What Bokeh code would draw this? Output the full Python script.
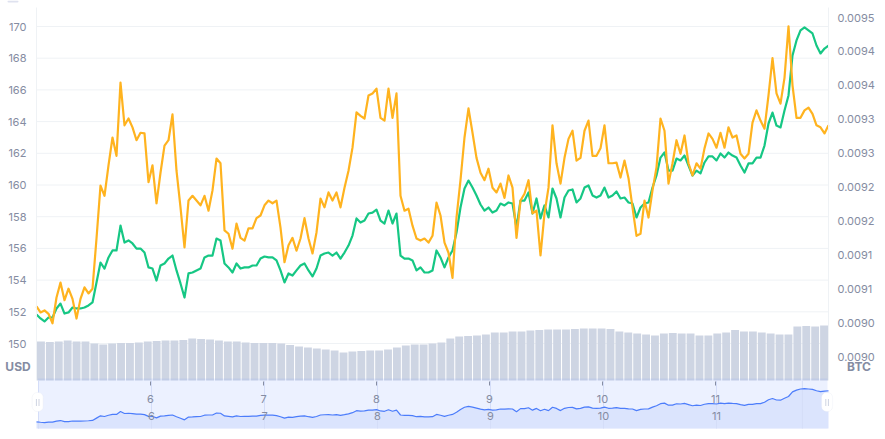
import numpy as np
from bokeh.embed import file_html
from bokeh.resources import INLINE
from bokeh.plotting import figure
from bokeh.models import (ColumnDataSource, Range1d, LinearAxis, FixedTicker, BoxAnnotation, Label)

USD_PRICE = [151.83,151.58,151.39,151.64,151.64,152.21,152.52,151.89,151.96,152.27,
152.21,152.21,152.27,152.40,152.59,153.85,155.11,154.73,155.43,155.87,
155.87,157.44,156.37,156.50,156.31,155.99,155.99,155.74,154.80,154.73,
153.97,154.92,155.05,155.36,155.55,154.61,153.79,152.90,154.42,154.48,
154.61,154.73,155.43,155.55,155.55,156.62,156.50,155.05,154.80,154.48,
155.05,154.73,154.80,154.80,154.92,154.92,155.36,155.49,155.43,155.43,
155.24,154.61,153.85,154.42,154.29,154.61,154.92,155.05,154.61,154.23,
154.73,155.55,155.68,155.74,155.55,155.74,155.36,155.74,156.18,156.81,
157.89,157.63,157.76,158.20,158.26,158.45,157.76,157.57,158.39,157.57,
158.20,155.55,155.36,155.36,155.24,154.61,154.80,154.48,154.48,154.61,
155.87,155.43,154.80,155.43,155.87,157.00,158.58,159.78,160.28,159.84,
159.34,158.77,158.39,158.58,158.26,158.39,158.83,158.71,158.90,158.83,
157.32,159.02,159.02,159.53,158.20,159.15,157.89,158.71,157.95,159.78,
159.15,157.95,159.21,159.65,159.72,158.90,159.15,159.84,159.97,159.34,
159.21,159.34,159.84,159.21,159.34,159.59,159.15,159.21,158.90,158.83,
157.95,158.58,158.83,158.90,159.84,160.60,161.73,162.05,160.91,160.91,
161.67,161.55,161.86,161.23,160.60,160.91,160.73,161.42,161.80,161.80,
161.55,161.99,161.73,162.05,161.86,161.73,161.23,160.79,161.36,161.36,
161.73,161.73,162.49,163.88,164.57,163.75,163.63,164.70,165.65,168.17,
169.12,169.75,169.94,169.75,169.56,168.80,168.30,168.61,168.80]

BTC_PRICE_MICRO = [9074,9065,9068,9063,9049,9087,9109,9083,9100,9085,
9056,9085,9102,9093,9100,9174,9252,9237,9282,9323,
9296,9404,9341,9351,9338,9319,9330,9329,9257,9282,
9226,9271,9311,9319,9357,9274,9220,9161,9230,9237,
9230,9223,9237,9215,9245,9292,9285,9186,9181,9159,
9196,9175,9171,9189,9189,9204,9208,9223,9230,9226,
9230,9190,9139,9164,9175,9156,9174,9204,9174,9152,
9183,9233,9220,9242,9230,9242,9220,9249,9274,9308,
9360,9355,9351,9385,9388,9395,9352,9348,9395,9352,
9388,9237,9215,9218,9193,9174,9171,9174,9168,9178,
9227,9208,9168,9153,9116,9205,9260,9323,9366,9330,
9293,9271,9260,9277,9249,9242,9255,9234,9267,9249,
9175,9230,9240,9260,9211,9215,9149,9211,9249,9341,
9285,9255,9293,9321,9333,9289,9293,9333,9348,9296,
9296,9307,9341,9285,9285,9286,9264,9289,9263,9220,
9178,9181,9230,9205,9245,9279,9351,9333,9255,9285,
9319,9299,9326,9285,9267,9285,9277,9307,9329,9321,
9308,9330,9308,9338,9323,9326,9299,9292,9299,9345,
9363,9348,9336,9385,9440,9388,9373,9411,9487,9400,
9352,9352,9363,9367,9358,9341,9338,9329,9341]

VOLUME = [39,38.5,39,40,39,39,37,36,37,37.5,37.5,38,39,39.5,40,40,40.5,42,41.5,41,
40,39,39,38,37.5,37.5,37.5,37,35.5,34,33,32,31,30,28,29,29.5,30,30,31,
33,35,36,36,37,38,42,44,44.5,45,46,48,48,49,49,50,50.5,51,51,51,
51.5,52,52,52,51.5,49,48,47,46,45,47,47.5,47,47,45,45,47,48,50.5,49,
49,48,47,46,46,54,54.5,54,55]

DAY_TICKS = [6, 7, 8, 9, 10, 11]
DAY_LABELS = ["6", "7", "8", "9", "10", "11"]
NAV_MARKS = [5.0, 6, 7, 8, 9, 10, 11, 11.76]
USD_TICKS = [150, 152, 154, 156, 158, 160, 162, 164, 166, 168, 170]
BTC_TICKS = [0.0095, 0.00945, 0.0094, 0.00935, 0.0093, 0.00925, 0.0092, 0.00915, 0.0091, 0.00905, 0.0090]
BTC_LABELS = ["0.0095", "0.0094", "0.0094", "0.0093", "0.0093", "0.0092", "0.0092", "0.0091", "0.0091", "0.0090", "0.0090"]

TXT = "#858ca2"
GRID = "#eff2f5"
FONT = "Inter"
W, H = 885, 430
L, R, B = 36, 828, 428   # plot edges in page pixels

def dx(px):
    return 6 + (px - 150) / 113
def uy(px):
    return 170 - (px - 26) / 15.85
def by(px):
    return 0.0095 - (px - 17) * 0.0005 / 339
def vy(px):
    return 380 - px
def ny(px):
    return 148.17 + (428 - px) / 1.83

# the frame fills the whole figure, so that handles and unit labels outside the plot are not clipped
p = figure(width=W, height=H, output_backend="svg", toolbar_location=None,
           x_range=Range1d(dx(0), dx(W)), y_range=Range1d(uy(H), uy(0)),
           x_axis_type=None, y_axis_type=None,
           min_border_left=0, min_border_right=0, min_border_top=0, min_border_bottom=0,
           outline_line_color=None, background_fill_color="white", border_fill_color="white")

p.extra_y_ranges = {"btc": Range1d(by(H), by(0)), "vol": Range1d(vy(H), vy(0)), "nav": Range1d(ny(H), ny(0))}
p.extra_x_ranges = {"navx": Range1d(dx(-1), dx(W - 1))}

def style_axis(a, standoff):
    a.major_tick_line_color = None
    a.minor_tick_line_color = None
    a.major_tick_in = 0
    a.major_tick_out = 0
    a.minor_tick_in = 0
    a.minor_tick_out = 0
    a.axis_line_color = GRID
    a.major_label_text_color = TXT
    a.major_label_text_font = FONT
    a.major_label_text_font_size = "11px"
    a.major_label_standoff = standoff

# grid rules stop at the plot edges
p.segment(x0=[dx(L)] * len(USD_TICKS), x1=[dx(R)] * len(USD_TICKS), y0=USD_TICKS, y1=USD_TICKS,
          line_color=GRID, line_width=1)

left = LinearAxis(ticker=FixedTicker(ticks=USD_TICKS), bounds=(uy(380), uy(7)), fixed_location=dx(L))
style_axis(left, 10)
p.add_layout(left, "left")

right = LinearAxis(y_range_name="btc", ticker=FixedTicker(ticks=BTC_TICKS), fixed_location=dx(R),
                   major_label_overrides=dict(zip(BTC_TICKS, BTC_LABELS)), bounds=(by(380), by(7)))
style_axis(right, 9)
p.add_layout(right, "right")

ax1 = LinearAxis(ticker=FixedTicker(ticks=DAY_TICKS), fixed_location=uy(381),
                 major_label_overrides=dict(zip(DAY_TICKS, DAY_LABELS)))
style_axis(ax1, 9)
ax1.axis_line_color = None
ax1.major_tick_line_color = TXT
ax1.major_tick_out = 4
p.add_layout(ax1, "below")

ax2 = LinearAxis(x_range_name="navx", ticker=FixedTicker(ticks=DAY_TICKS), fixed_location=uy(406),
                 major_label_overrides=dict(zip(DAY_TICKS, DAY_LABELS)))
style_axis(ax2, 5)
ax2.axis_line_color = None
p.add_layout(ax2, "below")

usd = np.array(USD_PRICE)
btc = np.array(BTC_PRICE_MICRO) * 1e-6
t = np.linspace(dx(L), dx(R), len(usd))
src = ColumnDataSource(dict(t=t, usd=usd, btc=btc, base=np.full(len(usd), ny(B))))

step = (dx(R) - dx(L)) / len(VOLUME)
vx = dx(L) + step * (np.arange(len(VOLUME)) + 0.5)
p.vbar(x=vx, top=VOLUME, bottom=0, width=step * 0.885, y_range_name="vol",
       fill_color="#ced5e3", line_color=None)

# navigator
p.quad(left=[dx(37.5)], right=[dx(827)], bottom=[ny(B)], top=[ny(378)], y_range_name="nav",
       fill_color="#6488ff", fill_alpha=0.12, line_color=None)
p.varea(x="t", y1="base", y2="usd", source=src, y_range_name="nav", fill_color="#dbe4fd")
p.segment(x0=NAV_MARKS, x1=NAV_MARKS, y0=[ny(B)] * len(NAV_MARKS), y1=[ny(380)] * len(NAV_MARKS),
          x_range_name="navx", y_range_name="nav", line_color="#d4ddf8", line_width=1)
p.line("t", "usd", source=src, y_range_name="nav", line_color="#4c7dfb", line_width=1.2)

p.line("t", "usd", source=src, line_color="#16c784", line_width=2.2, line_join="round")
p.line("t", "btc", source=src, y_range_name="btc", line_color="#ffb31f", line_width=2.2, line_join="round")

def box(l, r, t_, b_, **kw):
    p.add_layout(BoxAnnotation(left=dx(l), right=dx(r), top=uy(t_), bottom=uy(b_), level="overlay", **kw))

for c in (37.2, 826.6):
    box(c - 5.5, c + 5.5, 392, 411, fill_color="white", fill_alpha=1, line_color="#e6e9f2",
        line_width=1, border_radius=5)
    for g in (-1.3, 1.3):
        box(c + g - 0.5, c + g + 0.5, 398.5, 405.5, fill_color="#cfd4e2", fill_alpha=1, line_color=None)
box(7, 18, 0, 2, fill_color="#dfe2ef", fill_alpha=1, line_color=None, border_radius=1)

for text, xc in (("USD", 17.5), ("BTC", 858.5)):
    p.add_layout(Label(x=dx(xc), y=uy(366), text=text,
                       text_align="center", text_baseline="middle",
                       text_color=TXT, text_font=FONT, text_font_size="12px", text_font_style="bold"))

open("out.html", "w").write(file_html(p, INLINE))
